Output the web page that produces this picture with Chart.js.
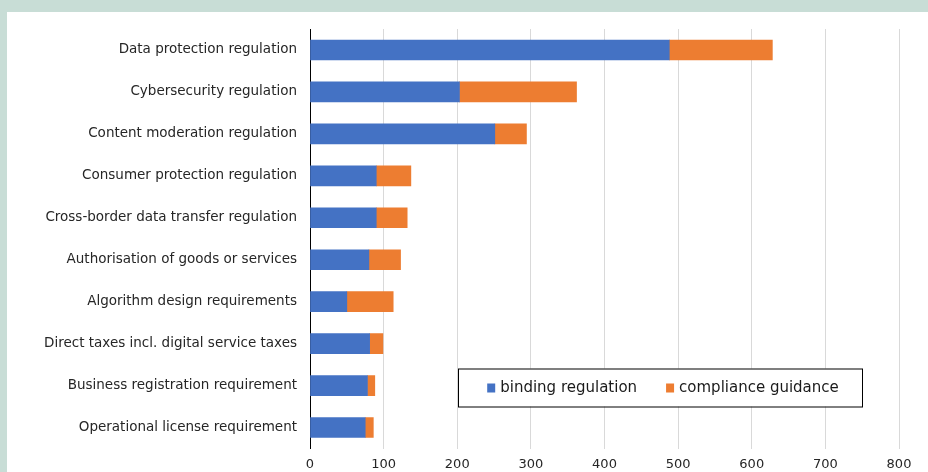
<!DOCTYPE html>
<html>
<head>
<meta charset="utf-8">
<script src="https://cdn.jsdelivr.net/npm/chart.js@4.4.1/dist/chart.umd.min.js"></script>
<style>
  html, body { margin: 0; padding: 0; background: #c8ddd6; }
  body { width: 928px; height: 472px; position: relative; overflow: hidden; }
  #panel { position: absolute; left: 7px; top: 12px; width: 921px; height: 460px; background: #fff; }
</style>
</head>
<body>
<div id="panel"><canvas id="myChart"></canvas></div>
<script>
//+++++++++++++++++++++++ Start:data +++++++++++++++++++++++
var categories = [
	'Data protection regulation',
	'Cybersecurity regulation',
	'Content moderation regulation',
	'Consumer protection regulation',
	'Cross-border data transfer regulation',
	'Authorisation of goods or services',
	'Algorithm design requirements',
	'Direct taxes incl. digital service taxes',
	'Business registration requirement',
	'Operational license requirement'
];
var bindingRegulation = [488, 203, 251, 90, 90, 80, 50, 81, 78, 75];
var complianceGuidance = [140, 159, 43, 47, 42, 43, 63, 18, 10, 11];
var xTicks = [0, 100, 200, 300, 400, 500, 600, 700, 800];
//-------------------- End:data --------------------

var FONT = '"DejaVu Sans", Verdana, sans-serif';

// boxed legend sitting inside the plot, like the original
var boxLegend = {
	id: 'boxLegend',
	afterDraw: function (chart) {
		var ctx = chart.ctx;
		var area = chart.chartArea;
		var left = area.left + 148, top = area.bottom - 80, w = 404, h = 38;
		ctx.save();
		ctx.fillStyle = '#fff';
		ctx.fillRect(left, top, w, h);
		ctx.strokeStyle = '#000';
		ctx.lineWidth = 1;
		ctx.strokeRect(left + 0.5, top + 0.5, w, h);

		ctx.font = '15px ' + FONT;
		ctx.textBaseline = 'middle';
		var sq = 8, gap = 5, spacing = 29;
		var items = chart.data.datasets.map(function (ds) {
			return { text: ds.label, color: ds.backgroundColor, width: ctx.measureText(ds.label).width };
		});
		var total = 0;
		items.forEach(function (it, i) { total += sq + gap + it.width + (i ? spacing : 0); });
		var x = left + (w - total) / 2 + 3;
		var cy = top + h / 2 + 0.5;
		items.forEach(function (it, i) {
			if (i) x += spacing;
			ctx.fillStyle = it.color;
			ctx.fillRect(x, cy - 4.5, sq, 9);
			x += sq + gap;
			ctx.fillStyle = '#1a1a1a';
			ctx.fillText(it.text, x, cy);
			x += it.width;
		});
		ctx.restore();
	}
};

var ctx = document.getElementById('myChart').getContext('2d');
var chart = new Chart(ctx, {
	type: 'bar',
	data: {
		labels: categories,
		datasets: [{
			label: 'binding regulation',
			data: bindingRegulation,
			backgroundColor: '#4472c4',
			barThickness: 20
		},
		{
			label: 'compliance guidance',
			data: complianceGuidance,
			backgroundColor: '#ed7d31',
			barThickness: 20
		}]
	},
	options: {
		indexAxis: 'y',
		responsive: true,
		maintainAspectRatio: false,
		animation: false,
		layout: { padding: { top: 17, right: 29, left: 0, bottom: 0 } },
		plugins: {
			legend: { display: false },
			tooltip: { enabled: false }
		},
		scales: {
			x: {
				stacked: true,
				min: xTicks[0],
				max: xTicks[xTicks.length - 1],
				afterBuildTicks: function (scale) {
					scale.ticks = xTicks.map(function (v) { return { value: v }; });
				},
				afterFit: function (scale) { scale.height = 23.5; },
				grid: {
					drawTicks: false,
					lineWidth: 1,
					color: function (c) { return c.tick && c.tick.value === 0 ? 'rgba(0,0,0,0)' : '#d9d9d9'; }
				},
				border: { display: false },
				ticks: {
					padding: 8,
					color: '#262626',
					font: { family: FONT, size: 13 }
				}
			},
			y: {
				stacked: true,
				afterFit: function (scale) {
					scale.width = 303;
					// no extra room above/below for the label padding
					scale.paddingTop = 0;
					scale.paddingBottom = 0;
				},
				grid: { display: false, drawTicks: false },
				border: { display: true, color: '#000', width: 1 },
				ticks: {
					autoSkip: false,
					padding: 13,
					color: '#262626',
					font: { family: FONT, size: 13.5 }
				}
			}
		}
	},
	plugins: [boxLegend]
});
</script>
</body>
</html>
